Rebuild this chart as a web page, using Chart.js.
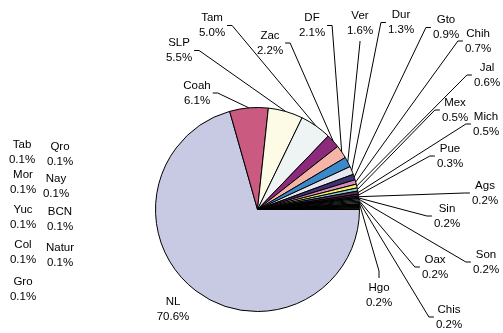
<!DOCTYPE html>
<html>
<head>
<meta charset="utf-8">
<script src="https://cdn.jsdelivr.net/npm/chart.js@4"></script>
<style>html,body{margin:0;background:#fff}</style>
</head>
<body>
<canvas id="pie" width="503" height="333"></canvas>
<script>
const states = ["NL","Coah","SLP","Tam","Zac","DF","Ver","Dur","Gto","Chih","Jal","Mex","Mich","Pue",
  "Ags","Sin","Son","Oax","Chis","Hgo","Tab","Qro","Mor","Nay","Yuc","BCN","Col","Natur","Gro"];
const shares = [70.6,6.1,5.5,5.0,2.2,2.1,1.6,1.3,0.9,0.7,0.6,0.5,0.5,0.3,
  0.2,0.2,0.2,0.2,0.2,0.2,0.1,0.1,0.1,0.1,0.1,0.1,0.1,0.1,0.1];
const fills = ["#c8c9e3","#cb5a80","#fdfbe6","#eef4f4","#8c2a7c","#f4b5a6","#3a8acb","#e6e6f0",
  "#3c3470","#d88cbc","#f5ef6c","#88d0d0","#5a2a5a","#6a2a2a","#2a6a6a","#2a3aa0","#66ccee",
  "#eef4f4","#e6f4e6","#fbf6c8","#b4cce8","#f0c0d8","#c8b4e8","#f4d8b8","#4a70d8","#50c0c0",
  "#a0c040","#f4cc40","#f0a040"];

// where each label sits: [centre x, centre y, side the leader line leaves from]
const labelPos = [
  [173,309,null],[197,93,"r"],[179,50.5,"r"],[212,25.5,"r"],[270,43,"r"],[312,25.5,"r"],
  [360,23,"b"],[401,22.5,"l"],[446,27.5,"l"],[478,41,"l"],[487,75,"l"],[455,110,"l"],
  [486,124,"l"],[450,156,"l"],[485,193,"l"],[447,216,"l"],[486,262,"l"],[435,267,"l"],
  [449,317,"l"],[379,295,"t"],
  [22,152,null],[60,154,null],[23,182,null],[56,186.5,null],[23,217.5,null],[60,219,null],
  [23,252,null],[60,255.5,null],[23,289.5,null]
];

const pieLabels = {
  id:"pieLabels",
  afterDatasetsDraw(chart){
    const ctx = chart.ctx;
    const arcs = chart.getDatasetMeta(0).data;
    ctx.save();
    ctx.font = "11.5px 'Liberation Sans', Arial, sans-serif";
    ctx.fillStyle = "#000";
    ctx.strokeStyle = "#000";
    ctx.lineWidth = 1;
    ctx.textAlign = "center";
    ctx.textBaseline = "middle";
    arcs.forEach((arc,i)=>{
      const [cx,cy,side] = labelPos[i];
      const pct = shares[i].toFixed(1)+"%";
      ctx.fillText(states[i],cx,cy-7.5);
      ctx.fillText(pct,cx,cy+7.5);
      if(!side) return;
      const mid = (arc.startAngle+arc.endAngle)/2;
      const ex = arc.x+Math.cos(mid)*arc.outerRadius;
      const ey = arc.y+Math.sin(mid)*arc.outerRadius;
      const hw = Math.max(ctx.measureText(states[i]).width, ctx.measureText(pct).width)/2;
      let a,b;
      if(side==="r"){ a=[cx+hw+2,cy]; b=[cx+hw+7,cy]; }
      else if(side==="l"){ a=[cx-hw-2,cy]; b=[cx-hw-7,cy]; }
      else if(side==="b"){ a=[cx,cy+18]; b=[cx,cy+19]; }
      else { a=[cx,cy-17]; b=[cx,cy-24]; }
      ctx.beginPath();
      ctx.moveTo(a[0],a[1]);
      ctx.lineTo(b[0],b[1]);
      ctx.lineTo(ex,ey);
      ctx.stroke();
    });
    ctx.restore();
  }
};

new Chart(document.getElementById("pie"),{
  type:"pie",
  data:{
    labels:states,
    datasets:[{data:shares, backgroundColor:fills, borderColor:"#000", borderWidth:1}]
  },
  options:{
    responsive:false,
    animation:false,
    rotation:90,
    layout:{padding:{left:155,right:143,top:107,bottom:21}},
    plugins:{legend:{display:false}, tooltip:{enabled:false}}
  },
  plugins:[pieLabels]
});
</script>
</body>
</html>
